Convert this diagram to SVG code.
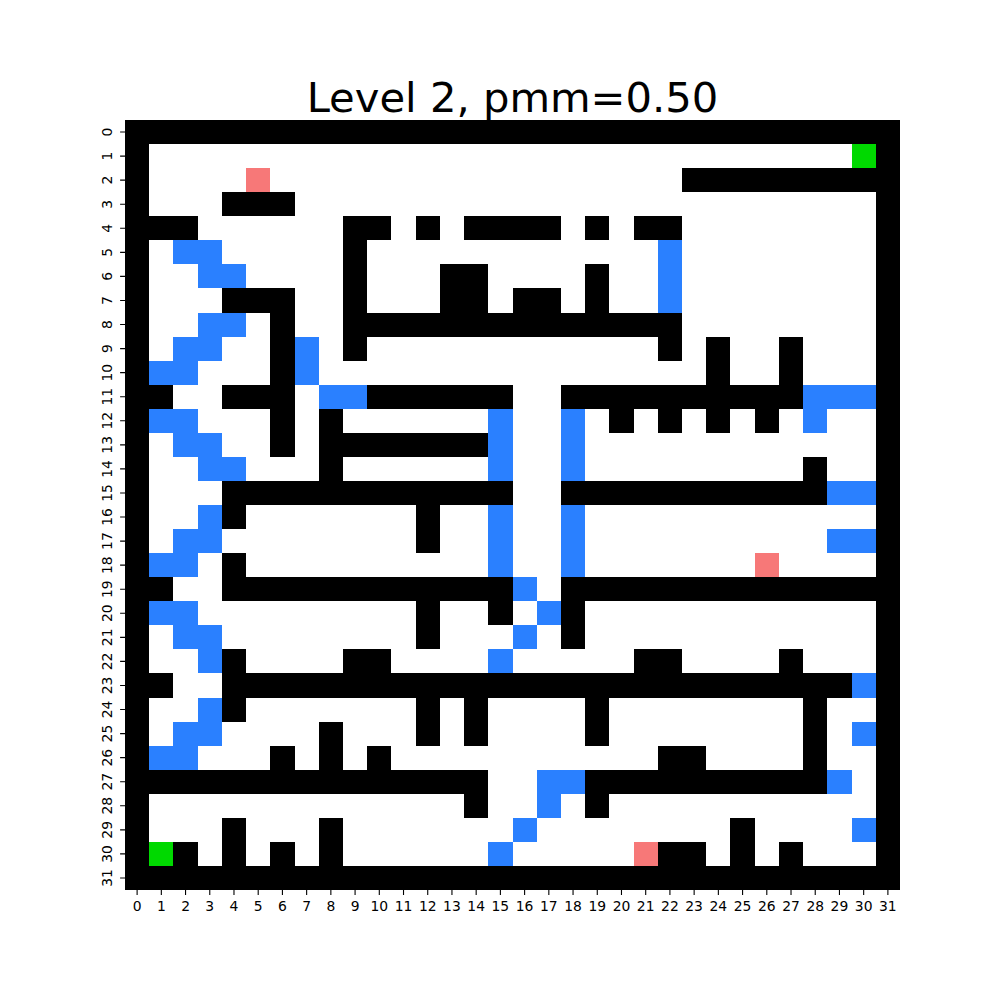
<svg xmlns="http://www.w3.org/2000/svg" width="1000" height="1000" viewBox="0 0 1000 1000">
<style>
.k{fill:#000}.b{fill:#2a80ff}.p{fill:#f77878}.g{fill:#00d900}
.t{font-family:"DejaVu Sans",sans-serif;font-size:13.9px;fill:#000;text-anchor:middle}
.tk{stroke:#000;stroke-width:1.1;fill:none}
</style>
<rect width="1000" height="1000" fill="#fff"/>
<text x="512.5" y="111.5" font-family="DejaVu Sans, sans-serif" font-size="41.7" text-anchor="middle">Level 2, pmm=0.50</text>
<g id="grid" transform="translate(125,120) scale(24.21875,24.0625)" shape-rendering="crispEdges">
<rect x="0" y="0" width="32" height="32" fill="#fff"/>
<rect class="k" x="0" y="0" width="32" height="1"/>
<rect class="k" x="0" y="31" width="32" height="1"/>
<rect class="k" x="0" y="0" width="1" height="32"/>
<rect class="k" x="31" y="0" width="1" height="32"/>
<!-- row 1 -->
<rect class="g" x="30" y="1" width="1" height="1"/>
<!-- row 2 -->
<rect class="p" x="5" y="2" width="1" height="1"/>
<rect class="k" x="23" y="2" width="9" height="1"/>
<!-- row 3 -->
<rect class="k" x="4" y="3" width="3" height="1"/>
<!-- row 4 -->
<rect class="k" x="0" y="4" width="3" height="1"/>
<rect class="k" x="9" y="4" width="2" height="1"/>
<rect class="k" x="12" y="4" width="1" height="1"/>
<rect class="k" x="14" y="4" width="4" height="1"/>
<rect class="k" x="19" y="4" width="1" height="1"/>
<rect class="k" x="21" y="4" width="2" height="1"/>
<!-- row 5 -->
<rect class="b" x="2" y="5" width="2" height="1"/>
<rect class="k" x="9" y="5" width="1" height="1"/>
<rect class="b" x="22" y="5" width="1" height="3"/>
<!-- row 6 -->
<rect class="b" x="3" y="6" width="2" height="1"/>
<rect class="k" x="9" y="6" width="1" height="1"/>
<rect class="k" x="13" y="6" width="2" height="1"/>
<rect class="k" x="19" y="6" width="1" height="1"/>
<!-- row 7 -->
<rect class="k" x="4" y="7" width="3" height="1"/>
<rect class="k" x="9" y="7" width="1" height="1"/>
<rect class="k" x="13" y="7" width="2" height="1"/>
<rect class="k" x="16" y="7" width="2" height="1"/>
<rect class="k" x="19" y="7" width="1" height="1"/>
<!-- row 8 -->
<rect class="b" x="3" y="8" width="2" height="1"/>
<rect class="k" x="6" y="8" width="1" height="1"/>
<rect class="k" x="9" y="8" width="14" height="1"/>
<!-- row 9 -->
<rect class="b" x="2" y="9" width="2" height="1"/>
<rect class="k" x="6" y="9" width="1" height="1"/>
<rect class="b" x="7" y="9" width="1" height="1"/>
<rect class="k" x="9" y="9" width="1" height="1"/>
<rect class="k" x="22" y="9" width="1" height="1"/>
<rect class="k" x="24" y="9" width="1" height="1"/>
<rect class="k" x="27" y="9" width="1" height="1"/>
<!-- row 10 -->
<rect class="b" x="1" y="10" width="2" height="1"/>
<rect class="k" x="6" y="10" width="1" height="1"/>
<rect class="b" x="7" y="10" width="1" height="1"/>
<rect class="k" x="24" y="10" width="1" height="1"/>
<rect class="k" x="27" y="10" width="1" height="1"/>
<!-- row 11 -->
<rect class="k" x="0" y="11" width="2" height="1"/>
<rect class="k" x="4" y="11" width="3" height="1"/>
<rect class="b" x="8" y="11" width="2" height="1"/>
<rect class="k" x="10" y="11" width="6" height="1"/>
<rect class="k" x="18" y="11" width="10" height="1"/>
<rect class="b" x="28" y="11" width="3" height="1"/>
<!-- row 12 -->
<rect class="b" x="1" y="12" width="2" height="1"/>
<rect class="k" x="6" y="12" width="1" height="1"/>
<rect class="k" x="8" y="12" width="1" height="1"/>
<rect class="b" x="15" y="12" width="1" height="3"/>
<rect class="b" x="18" y="12" width="1" height="3"/>
<rect class="k" x="20" y="12" width="1" height="1"/>
<rect class="k" x="22" y="12" width="1" height="1"/>
<rect class="k" x="24" y="12" width="1" height="1"/>
<rect class="k" x="26" y="12" width="1" height="1"/>
<rect class="b" x="28" y="12" width="1" height="1"/>
<!-- row 13 -->
<rect class="b" x="2" y="13" width="2" height="1"/>
<rect class="k" x="6" y="13" width="1" height="1"/>
<rect class="k" x="8" y="13" width="7" height="1"/>
<!-- row 14 -->
<rect class="b" x="3" y="14" width="2" height="1"/>
<rect class="k" x="8" y="14" width="1" height="1"/>
<rect class="k" x="28" y="14" width="1" height="1"/>
<!-- row 15 -->
<rect class="k" x="4" y="15" width="12" height="1"/>
<rect class="k" x="18" y="15" width="11" height="1"/>
<rect class="b" x="29" y="15" width="2" height="1"/>
<!-- row 16 -->
<rect class="b" x="3" y="16" width="1" height="1"/>
<rect class="k" x="4" y="16" width="1" height="1"/>
<rect class="k" x="12" y="16" width="1" height="2"/>
<rect class="b" x="15" y="16" width="1" height="3"/>
<rect class="b" x="18" y="16" width="1" height="3"/>
<!-- row 17 -->
<rect class="b" x="2" y="17" width="2" height="1"/>
<rect class="b" x="29" y="17" width="2" height="1"/>
<!-- row 18 -->
<rect class="b" x="1" y="18" width="2" height="1"/>
<rect class="k" x="4" y="18" width="1" height="1"/>
<rect class="p" x="26" y="18" width="1" height="1"/>
<!-- row 19 -->
<rect class="k" x="0" y="19" width="2" height="1"/>
<rect class="k" x="4" y="19" width="12" height="1"/>
<rect class="b" x="16" y="19" width="1" height="1"/>
<rect class="k" x="18" y="19" width="14" height="1"/>
<!-- row 20 -->
<rect class="b" x="1" y="20" width="2" height="1"/>
<rect class="k" x="12" y="20" width="1" height="2"/>
<rect class="k" x="15" y="20" width="1" height="1"/>
<rect class="b" x="17" y="20" width="1" height="1"/>
<rect class="k" x="18" y="20" width="1" height="2"/>
<!-- row 21 -->
<rect class="b" x="2" y="21" width="2" height="1"/>
<rect class="b" x="16" y="21" width="1" height="1"/>
<!-- row 22 -->
<rect class="b" x="3" y="22" width="1" height="1"/>
<rect class="k" x="4" y="22" width="1" height="1"/>
<rect class="k" x="9" y="22" width="2" height="1"/>
<rect class="b" x="15" y="22" width="1" height="1"/>
<rect class="k" x="21" y="22" width="2" height="1"/>
<rect class="k" x="27" y="22" width="1" height="1"/>
<!-- row 23 -->
<rect class="k" x="0" y="23" width="2" height="1"/>
<rect class="k" x="4" y="23" width="26" height="1"/>
<rect class="b" x="30" y="23" width="1" height="1"/>
<!-- row 24 -->
<rect class="b" x="3" y="24" width="1" height="1"/>
<rect class="k" x="4" y="24" width="1" height="1"/>
<rect class="k" x="12" y="24" width="1" height="2"/>
<rect class="k" x="14" y="24" width="1" height="2"/>
<rect class="k" x="19" y="24" width="1" height="2"/>
<rect class="k" x="28" y="24" width="1" height="3"/>
<!-- row 25 -->
<rect class="b" x="2" y="25" width="2" height="1"/>
<rect class="k" x="8" y="25" width="1" height="2"/>
<rect class="b" x="30" y="25" width="1" height="1"/>
<!-- row 26 -->
<rect class="b" x="1" y="26" width="2" height="1"/>
<rect class="k" x="6" y="26" width="1" height="1"/>
<rect class="k" x="10" y="26" width="1" height="1"/>
<rect class="k" x="22" y="26" width="2" height="1"/>
<!-- row 27 -->
<rect class="k" x="0" y="27" width="15" height="1"/>
<rect class="b" x="17" y="27" width="2" height="1"/>
<rect class="k" x="19" y="27" width="10" height="1"/>
<rect class="b" x="29" y="27" width="1" height="1"/>
<!-- row 28 -->
<rect class="k" x="14" y="28" width="1" height="1"/>
<rect class="b" x="17" y="28" width="1" height="1"/>
<rect class="k" x="19" y="28" width="1" height="1"/>
<!-- row 29 -->
<rect class="k" x="4" y="29" width="1" height="2"/>
<rect class="k" x="8" y="29" width="1" height="2"/>
<rect class="b" x="16" y="29" width="1" height="1"/>
<rect class="k" x="25" y="29" width="1" height="2"/>
<rect class="b" x="30" y="29" width="1" height="1"/>
<!-- row 30 -->
<rect class="g" x="1" y="30" width="1" height="1"/>
<rect class="k" x="2" y="30" width="1" height="1"/>
<rect class="k" x="6" y="30" width="1" height="1"/>
<rect class="b" x="15" y="30" width="1" height="1"/>
<rect class="p" x="21" y="30" width="1" height="1"/>
<rect class="k" x="22" y="30" width="2" height="1"/>
<rect class="k" x="27" y="30" width="1" height="1"/>
</g>
<g id="ticks">
<path class="tk" d="M137.11 890v4.9M161.33 890v4.9M185.55 890v4.9M209.77 890v4.9M233.98 890v4.9M258.2 890v4.9M282.42 890v4.9M306.64 890v4.9M330.86 890v4.9M355.08 890v4.9M379.3 890v4.9M403.52 890v4.9M427.73 890v4.9M451.95 890v4.9M476.17 890v4.9M500.39 890v4.9M524.61 890v4.9M548.83 890v4.9M573.05 890v4.9M597.27 890v4.9M621.48 890v4.9M645.7 890v4.9M669.92 890v4.9M694.14 890v4.9M718.36 890v4.9M742.58 890v4.9M766.8 890v4.9M791.02 890v4.9M815.23 890v4.9M839.45 890v4.9M863.67 890v4.9M887.89 890v4.9"/>
<path class="tk" d="M120.1 132.03h4.9M120.1 156.09h4.9M120.1 180.16h4.9M120.1 204.22h4.9M120.1 228.28h4.9M120.1 252.34h4.9M120.1 276.41h4.9M120.1 300.47h4.9M120.1 324.53h4.9M120.1 348.59h4.9M120.1 372.66h4.9M120.1 396.72h4.9M120.1 420.78h4.9M120.1 444.84h4.9M120.1 468.91h4.9M120.1 492.97h4.9M120.1 517.03h4.9M120.1 541.09h4.9M120.1 565.16h4.9M120.1 589.22h4.9M120.1 613.28h4.9M120.1 637.34h4.9M120.1 661.41h4.9M120.1 685.47h4.9M120.1 709.53h4.9M120.1 733.59h4.9M120.1 757.66h4.9M120.1 781.72h4.9M120.1 805.78h4.9M120.1 829.84h4.9M120.1 853.91h4.9M120.1 877.97h4.9"/>
</g>
<g id="xlabels" class="t">
<text x="137.11" y="911">0</text><text x="161.33" y="911">1</text><text x="185.55" y="911">2</text><text x="209.77" y="911">3</text><text x="233.98" y="911">4</text><text x="258.2" y="911">5</text><text x="282.42" y="911">6</text><text x="306.64" y="911">7</text><text x="330.86" y="911">8</text><text x="355.08" y="911">9</text><text x="379.3" y="911">10</text><text x="403.52" y="911">11</text><text x="427.73" y="911">12</text><text x="451.95" y="911">13</text><text x="476.17" y="911">14</text><text x="500.39" y="911">15</text><text x="524.61" y="911">16</text><text x="548.83" y="911">17</text><text x="573.05" y="911">18</text><text x="597.27" y="911">19</text><text x="621.48" y="911">20</text><text x="645.7" y="911">21</text><text x="669.92" y="911">22</text><text x="694.14" y="911">23</text><text x="718.36" y="911">24</text><text x="742.58" y="911">25</text><text x="766.8" y="911">26</text><text x="791.02" y="911">27</text><text x="815.23" y="911">28</text><text x="839.45" y="911">29</text><text x="863.67" y="911">30</text><text x="887.89" y="911">31</text>
</g>
<g id="ylabels" class="t">
<text transform="translate(112,132.03) rotate(-90)">0</text><text transform="translate(112,156.09) rotate(-90)">1</text><text transform="translate(112,180.16) rotate(-90)">2</text><text transform="translate(112,204.22) rotate(-90)">3</text><text transform="translate(112,228.28) rotate(-90)">4</text><text transform="translate(112,252.34) rotate(-90)">5</text><text transform="translate(112,276.41) rotate(-90)">6</text><text transform="translate(112,300.47) rotate(-90)">7</text><text transform="translate(112,324.53) rotate(-90)">8</text><text transform="translate(112,348.59) rotate(-90)">9</text><text transform="translate(112,372.66) rotate(-90)">10</text><text transform="translate(112,396.72) rotate(-90)">11</text><text transform="translate(112,420.78) rotate(-90)">12</text><text transform="translate(112,444.84) rotate(-90)">13</text><text transform="translate(112,468.91) rotate(-90)">14</text><text transform="translate(112,492.97) rotate(-90)">15</text><text transform="translate(112,517.03) rotate(-90)">16</text><text transform="translate(112,541.09) rotate(-90)">17</text><text transform="translate(112,565.16) rotate(-90)">18</text><text transform="translate(112,589.22) rotate(-90)">19</text><text transform="translate(112,613.28) rotate(-90)">20</text><text transform="translate(112,637.34) rotate(-90)">21</text><text transform="translate(112,661.41) rotate(-90)">22</text><text transform="translate(112,685.47) rotate(-90)">23</text><text transform="translate(112,709.53) rotate(-90)">24</text><text transform="translate(112,733.59) rotate(-90)">25</text><text transform="translate(112,757.66) rotate(-90)">26</text><text transform="translate(112,781.72) rotate(-90)">27</text><text transform="translate(112,805.78) rotate(-90)">28</text><text transform="translate(112,829.84) rotate(-90)">29</text><text transform="translate(112,853.91) rotate(-90)">30</text><text transform="translate(112,877.97) rotate(-90)">31</text>
</g>
</svg>
